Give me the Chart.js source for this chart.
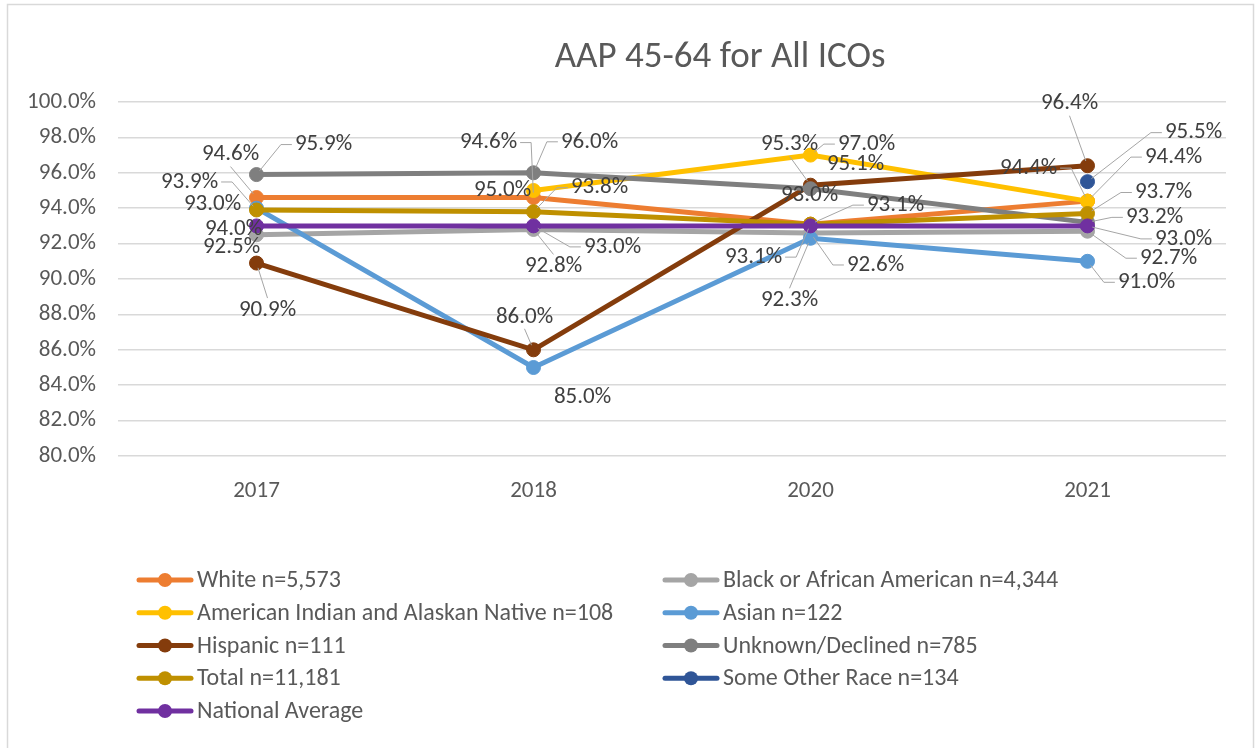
<!DOCTYPE html>
<html>
<head>
<meta charset="utf-8">
<title>AAP 45-64 for All ICOs</title>
<script src="https://cdn.jsdelivr.net/npm/chart.js@4.4.1/dist/chart.umd.min.js"></script>
<style>
html, body { margin: 0; padding: 0; background: #fff; }
#wrap { position: relative; width: 1255px; height: 748px; }
</style>
</head>
<body>
<div id="wrap"><canvas id="aapChart"></canvas></div>
<script>
var years = ['2017', '2018', '2020', '2021'];

var white = [94.6, 94.6, 93.1, 94.4];
var black = [92.5, 92.8, 92.6, 92.7];
var aian = [null, 95.0, 97.0, 94.4];
var asian = [94.0, 85.0, 92.3, 91.0];
var hispanic = [90.9, 86.0, 95.3, 96.4];
var unknown = [95.9, 96.0, 95.1, 93.2];
var total = [93.9, 93.8, 93.1, 93.7];
var otherRace = [null, null, null, 95.5];
var national = [93.0, 93.0, 93.0, 93.0];

var seriesNames = [
    'White n=5,573',
    'Black or African American n=4,344',
    'American Indian and Alaskan Native n=108',
    'Asian n=122',
    'Hispanic n=111',
    'Unknown/Declined n=785',
    'Total n=11,181',
    'Some Other Race n=134',
    'National Average'
];
var seriesValues = [white, black, aian, asian, hispanic, unknown, total, otherRace, national];
var seriesColors = ['#ED7D31', '#A5A5A5', '#FFC000', '#5B9BD5', '#843C0C', '#7F7F7F', '#BF9000', '#2F5597', '#7030A0'];

var yMin = 80, yMax = 100, yStep = 2;

// data label placement: [dx, dy, leader line] from the point, per year
var labelPlaces = [
    [[-26, -43, true], [-45, -55, true], [85, -19, true], [-59, -33, true]],
    [[-25, 12, false], [20, 37, true], [65, 32, true], [81, 27, true]],
    [null, [-31, 0, false], [56, -11, true], [86, -44, true]],
    [[-23, 21, false], [49, 30, false], [-21, 62, true], [59, 21, true]],
    [[11, 47, true], [-9, -33, true], [-21, -41, true], [-18, -62, true]],
    [[67, -30, true], [56, -31, true], [45, -24, false], [67, -5, true]],
    [[-67, -28, true], [66, -24, true], [-57, 33, true], [76, -21, true]],
    [null, null, null, [106, -49, true]],
    [[-44, -22, false], [79, 21, true], [-1, -31, false], [96, 13, true]]
];

var FONT = "Carlito, 'Open Sans', sans-serif";
Chart.defaults.font.family = FONT;

function pct(v) { return v.toFixed(1) + '%'; }

function drawLeader(ctx, px, py, cx, cy, w) {
    var half = w / 2, pts;
    if (Math.abs(cx - px) > half + 6) {
        var dir = cx > px ? 1 : -1;
        var endX = cx - dir * (half + 3);
        pts = [[endX - dir * 11, cy], [endX, cy]];
    } else {
        pts = [[cx, cy > py ? cy - 12 : cy + 12]];
    }
    var ang = Math.atan2(pts[0][1] - py, pts[0][0] - px);
    ctx.beginPath();
    ctx.moveTo(px + Math.cos(ang) * 5, py + Math.sin(ang) * 5);
    pts.forEach(function (p) { ctx.lineTo(p[0], p[1]); });
    ctx.stroke();
}

var frame = {
    id: 'frame',
    beforeDraw: function (chart) {
        var ctx = chart.ctx;
        ctx.save();
        ctx.fillStyle = '#ffffff';
        ctx.fillRect(0, 0, chart.width, chart.height);
        ctx.strokeStyle = '#D9D9D9';
        ctx.lineWidth = 1.5;
        ctx.beginPath();
        ctx.moveTo(7.5, chart.height);
        ctx.lineTo(7.5, 4.5);
        ctx.lineTo(1253.5, 4.5);
        ctx.lineTo(1253.5, chart.height);
        ctx.stroke();
        ctx.fillStyle = '#595959';
        ctx.font = '37px ' + FONT;
        ctx.textAlign = 'center';
        ctx.textBaseline = 'middle';
        ctx.fillText('AAP 45-64 for All ICOs', 720, 58);
        ctx.restore();
    }
};

var pointLabels = {
    id: 'pointLabels',
    afterDatasetsDraw: function (chart) {
        var ctx = chart.ctx;
        ctx.save();
        ctx.font = '23px ' + FONT;
        ctx.textAlign = 'center';
        ctx.textBaseline = 'middle';
        ctx.strokeStyle = '#A6A6A6';
        ctx.lineWidth = 1;
        chart.data.datasets.forEach(function (ds, i) {
            var meta = chart.getDatasetMeta(i);
            meta.data.forEach(function (pt, j) {
                var v = ds.data[j];
                var place = labelPlaces[i][j];
                if (v === null || !place) return;
                var text = pct(v);
                var cx = pt.x + place[0], cy = pt.y + place[1];
                if (place[2]) drawLeader(ctx, pt.x, pt.y, cx, cy, ctx.measureText(text).width);
                ctx.fillStyle = '#404040';
                ctx.fillText(text, cx, cy);
            });
        });
        ctx.restore();
    }
};

var sideLegend = {
    id: 'sideLegend',
    afterDraw: function (chart) {
        var ctx = chart.ctx;
        var cols = [137, 663];
        ctx.save();
        ctx.font = '24px ' + FONT;
        ctx.textAlign = 'left';
        ctx.textBaseline = 'middle';
        chart.data.datasets.forEach(function (ds, i) {
            var x = cols[i % 2];
            var y = 580 + Math.floor(i / 2) * 32.75;
            ctx.strokeStyle = ds.borderColor;
            ctx.lineWidth = 5;
            ctx.lineCap = 'round';
            ctx.beginPath();
            ctx.moveTo(x + 2, y);
            ctx.lineTo(x + 54, y);
            ctx.stroke();
            ctx.fillStyle = ds.borderColor;
            ctx.beginPath();
            ctx.arc(x + 28, y, 7, 0, Math.PI * 2);
            ctx.fill();
            ctx.fillStyle = '#595959';
            ctx.fillText(ds.label, x + 60, y + 1);
        });
        ctx.restore();
    }
};

var datasets = seriesNames.map(function (name, i) {
    return {
        label: name,
        data: seriesValues[i],
        borderColor: seriesColors[i],
        backgroundColor: seriesColors[i],
        pointBackgroundColor: seriesColors[i],
        pointBorderColor: seriesColors[i],
        borderWidth: 5,
        pointRadius: 7,
        pointBorderWidth: 1,
        pointHoverRadius: 7,
        tension: 0,
        order: seriesNames.length - i
    };
});

new Chart(document.getElementById('aapChart'), {
    type: 'line',
    data: { labels: years, datasets: datasets },
    options: {
        responsive: true,
        maintainAspectRatio: false,
        animation: false,
        layout: { padding: { top: 102, right: 29, left: 0, bottom: 0 } },
        plugins: {
            legend: { display: false },
            title: { display: false },
            tooltip: { enabled: false }
        },
        scales: {
            x: {
                offset: true,
                grid: { display: false, drawTicks: false },
                border: { display: false },
                ticks: { color: '#595959', font: { size: 23 }, padding: 21 },
                afterFit: function (s) { s.height = 292; }
            },
            y: {
                min: yMin,
                max: yMax,
                grid: { color: '#D9D9D9', lineWidth: 1.5, drawTicks: false },
                border: { display: false },
                ticks: {
                    stepSize: yStep,
                    color: '#595959',
                    font: { size: 23 },
                    padding: 22,
                    callback: function (v) { return pct(v); }
                },
                afterFit: function (s) { s.width = 118; }
            }
        }
    },
    plugins: [frame, pointLabels, sideLegend]
});
</script>
</body>
</html>
